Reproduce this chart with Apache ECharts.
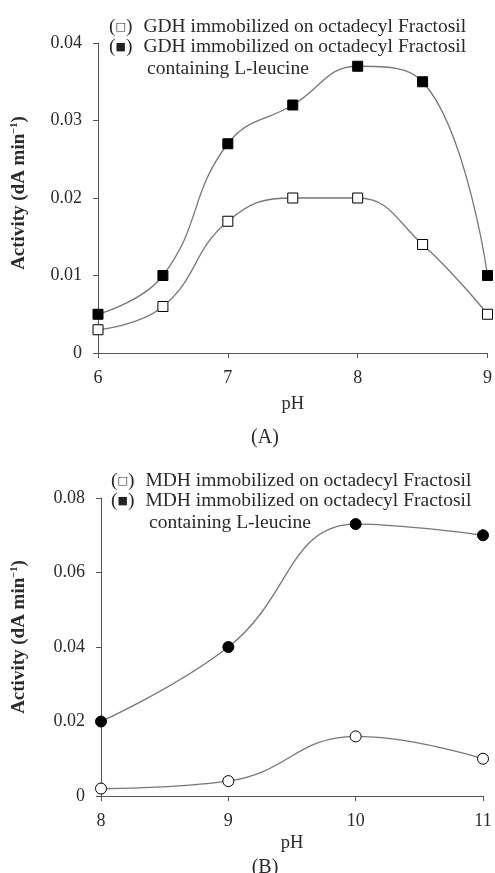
<!DOCTYPE html>
<html><head><meta charset="utf-8">
<script src="https://cdn.jsdelivr.net/npm/echarts@6/dist/echarts.min.js"></script>
<style>html,body{margin:0;padding:0;background:#fff}#c{width:495px;height:873px}</style>
</head><body><div id="c"></div>
<script>
// Panel A (GDH)
const phA = [6, 6.5, 7, 7.5, 8, 8.5, 9];
const gdhPlain = [0.003, 0.006, 0.017, 0.020, 0.020, 0.014, 0.005];
const gdhLeucine = [0.005, 0.010, 0.027, 0.032, 0.037, 0.035, 0.010];
// Panel B (MDH)
const phB = [8, 9, 10, 11];
const mdhPlain = [0.002, 0.004, 0.016, 0.010];
const mdhLeucine = [0.020, 0.040, 0.073, 0.070];

const nameA1 = 'GDH immobilized on octadecyl Fractosil';
const nameA2 = 'GDH immobilized on octadecyl Fractosil containing L-leucine';
const nameB1 = 'MDH immobilized on octadecyl Fractosil';
const nameB2 = 'MDH immobilized on octadecyl Fractosil containing L-leucine';

const FONT = '"Liberation Serif", "Times New Roman", serif';
const TXT = '#2a2a2a';
const AX = '#555';
const LINE = '#777';

function pairs(xs, ys) { return xs.map((x, i) => [x, ys[i]]); }

const rich = {
  p: { fontFamily: FONT, fontSize: 19.5, color: TXT, lineHeight: 21.5 },
  so: { fontFamily: '"DejaVu Sans"', fontSize: 11, color: '#222', lineHeight: 21.5 },
  g: { fontFamily: FONT, fontSize: 19.5, width: 11, lineHeight: 21.5 },
  t: { fontFamily: FONT, fontSize: 19.5, color: TXT, lineHeight: 21.5 },
  ind: { fontFamily: FONT, fontSize: 19.5, width: 38, lineHeight: 21.5 }
};

function legendFmt(name) {
  const filled = name.indexOf('containing') >= 0;
  const base = name.replace(' containing L-leucine', '');
  let s = '{p|(}{so|' + (filled ? '■' : '□') + '}{p|)}{g| }{t|' + base + '}';
  if (filled) s += '\n{ind| }{t|containing L-leucine}';
  return s;
}

function yFmt(v) { return v === 0 ? '0' : v.toFixed(2); }

const axisCommon = {
  axisLine: { show: true, lineStyle: { color: AX, width: 1 } },
  axisTick: { show: true, length: 5, lineStyle: { color: AX } },
  splitLine: { show: false },
  nameTextStyle: { fontFamily: FONT, fontSize: 18.5, color: TXT }
};

function yName(shift) {
  return {
    name: '{a|Activity (dA min}{s|−1}{a|)}',
    nameLocation: 'middle',
    nameRotate: 90,
    nameTextStyle: {
      padding: [0, 0, 0, shift],
      rich: {
        a: { fontFamily: FONT, fontSize: 19, fontWeight: 'bold', color: TXT },
        s: { fontFamily: FONT, fontSize: 10.5, fontWeight: 'bold', color: TXT, padding: [0, 0, 10, 0] }
      }
    }
  };
}

function lineSeries(name, xi, data, symbol, filled) {
  return {
    name: name, type: 'line', xAxisIndex: xi, yAxisIndex: xi,
    data: data, smooth: 0.45, clip: false,
    symbol: symbol, symbolSize: symbol === 'circle' ? 11 : 10, showSymbol: true,
    lineStyle: { color: LINE, width: 1.3 },
    itemStyle: { color: filled ? '#000' : '#fff', borderColor: '#000', borderWidth: 1 },
    z: filled ? 3 : 2
  };
}

const option = {
  animation: false,
  backgroundColor: '#fff',
  textStyle: { fontFamily: FONT },
  title: [
    { text: '(A)', left: 260, top: 423, textAlign: 'center', textStyle: { fontFamily: FONT, fontSize: 20, fontWeight: 'normal', color: TXT } },
    { text: '(B)', left: 260, top: 853, textAlign: 'center', textStyle: { fontFamily: FONT, fontSize: 20, fontWeight: 'normal', color: TXT } }
  ],
  legend: [
    { data: [nameA1, nameA2], left: 98, top: 12, orient: 'vertical', itemGap: 0, itemWidth: 0, itemHeight: 0,
      selectedMode: false, formatter: legendFmt, textStyle: { rich: rich } },
    { data: [nameB1, nameB2], left: 100, top: 466, orient: 'vertical', itemGap: 0, itemWidth: 0, itemHeight: 0,
      selectedMode: false, formatter: legendFmt, textStyle: { rich: rich } }
  ],
  grid: [
    { left: 98, top: 43, width: 390, height: 310, containLabel: false },
    { left: 101, top: 498, width: 382, height: 298, containLabel: false }
  ],
  xAxis: [
    Object.assign({}, axisCommon, {
      type: 'value', gridIndex: 0, min: 6, max: 9, interval: 1,
      name: 'pH', nameLocation: 'middle', nameGap: 42,
      axisLabel: { fontFamily: FONT, fontSize: 18, color: TXT, margin: 16 }
    }),
    Object.assign({}, axisCommon, {
      type: 'value', gridIndex: 1, min: 8, max: 11, interval: 1,
      name: 'pH', nameLocation: 'middle', nameGap: 38,
      axisLabel: { fontFamily: FONT, fontSize: 18, color: TXT, margin: 16 }
    })
  ],
  yAxis: [
    Object.assign({}, axisCommon, yName(10), {
      type: 'value', gridIndex: 0, min: 0, max: 0.04, interval: 0.01, nameGap: 68,
      axisLabel: { fontFamily: FONT, fontSize: 18, color: TXT, margin: 16, formatter: yFmt }
    }),
    Object.assign({}, axisCommon, yName(20), {
      type: 'value', gridIndex: 1, min: 0, max: 0.08, interval: 0.02, nameGap: 71,
      axisLabel: { fontFamily: FONT, fontSize: 18, color: TXT, margin: 16, formatter: yFmt }
    })
  ],
  series: [
    lineSeries(nameA1, 0, pairs(phA, gdhPlain), 'rect', false),
    lineSeries(nameA2, 0, pairs(phA, gdhLeucine), 'rect', true),
    lineSeries(nameB1, 1, pairs(phB, mdhPlain), 'circle', false),
    lineSeries(nameB2, 1, pairs(phB, mdhLeucine), 'circle', true)
  ]
};

const chart = echarts.init(document.getElementById('c'), null, { renderer: 'canvas' });
chart.setOption(option);
</script>
</body></html>
